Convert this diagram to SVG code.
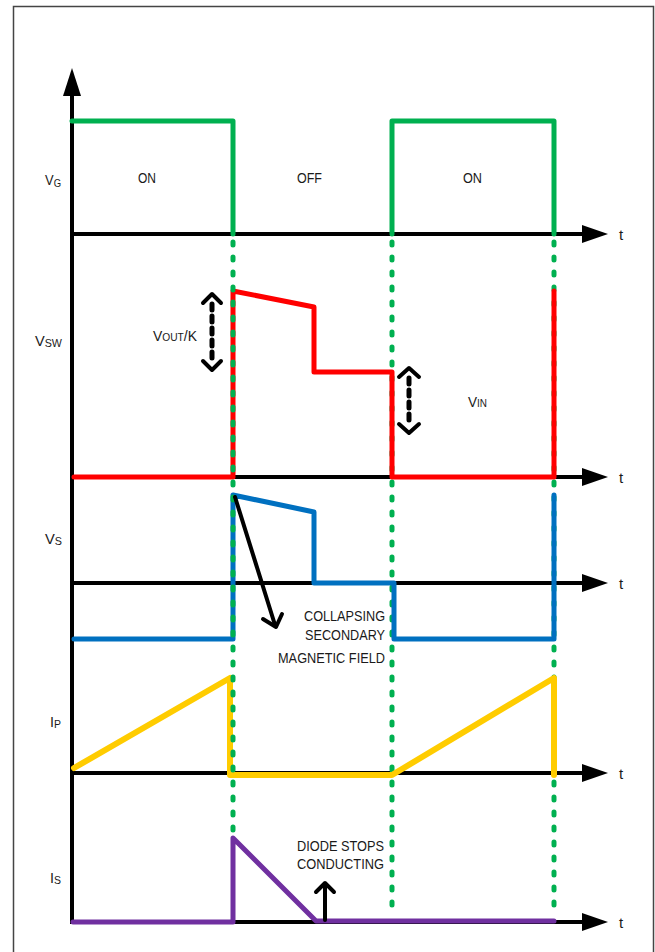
<svg xmlns="http://www.w3.org/2000/svg" width="655" height="952" viewBox="0 0 655 952">
<style>
.ax{stroke:#000;stroke-width:4;fill:none}
.ah{fill:#000}
.wv{fill:none;stroke-linejoin:round;stroke-linecap:round}
.dot{stroke:#00B050;stroke-width:5;stroke-dasharray:3 12;stroke-linecap:round;fill:none}
.blk{stroke:#000;fill:none;stroke-linecap:round;stroke-linejoin:round}
.tx{font-family:"Liberation Sans",Arial,sans-serif;font-size:15px;fill:#1a1a1a}
.sb{font-size:11px}
</style>
<rect x="13.5" y="6.5" width="640" height="960" fill="#fff" stroke="#444" stroke-width="1.5"/>
<g id="axes">
<line class="ax" x1="72" y1="92" x2="72" y2="924"/>
<polygon class="ah" points="72,68 63,96 81,96"/>
<line class="ax" x1="70" y1="234" x2="586" y2="234"/>
<polygon class="ah" points="608,234 582,225 582,243"/>
<line class="ax" x1="70" y1="477" x2="586" y2="477"/>
<polygon class="ah" points="608,477 582,468 582,486"/>
<line class="ax" x1="70" y1="583" x2="586" y2="583"/>
<polygon class="ah" points="608,583 582,574 582,592"/>
<line class="ax" x1="70" y1="773" x2="586" y2="773"/>
<polygon class="ah" points="608,773 582,764 582,782"/>
<line class="ax" x1="70" y1="922" x2="586" y2="922"/>
<polygon class="ah" points="608,922 582,913 582,931"/>
</g>
<g id="guides-back">
<line class="dot" x1="392" y1="242" x2="392" y2="912"/>
<line class="dot" x1="554" y1="242" x2="554" y2="912"/>
</g>
<g id="vg">
<polyline class="wv" stroke="#00B050" stroke-width="5" points="72,121 233,121 233,234"/>
<polyline class="wv" stroke="#00B050" stroke-width="5" points="392,234 392,121 554,121 554,234"/>
</g>
<g id="vsw">
<polyline class="wv" stroke="#FF0000" stroke-width="5" points="74,477 233,477 233,291 314,307 314,372 392,372 392,477 554,477 554,291"/>
</g>
<g id="vs">
<polyline class="wv" stroke="#0070C0" stroke-width="5" points="74,639 233,639 233,495 314,512 314,583 394,583 394,639 554,639 554,495"/>
</g>
<g id="ip">
<polyline class="wv" stroke="#FFCC00" stroke-width="6" points="74,768 230,678 230,775 392,775 554,678 554,775"/>
</g>
<g id="is">
<polyline class="wv" stroke="#7030A0" stroke-width="5" points="73,922 233,922 233,838 316,921 554,921"/>
</g>
<g id="guides-front">
<line class="dot" x1="233" y1="242" x2="233" y2="832"/>
</g>
<g id="arrows">
<line class="blk" x1="212" y1="304" x2="212" y2="362" stroke-width="5" stroke-dasharray="6 6" stroke-linecap="butt"/>
<polyline class="blk" stroke-width="4" points="203,303 212,294 221,303"/>
<polyline class="blk" stroke-width="4" points="203,361 212,370 221,361"/>
<line class="blk" x1="409" y1="378" x2="409" y2="424" stroke-width="5" stroke-dasharray="6 6" stroke-linecap="butt"/>
<polyline class="blk" stroke-width="4" points="399,377 409,368 419,377"/>
<polyline class="blk" stroke-width="4" points="399,424 409,433 419,424"/>
<line class="blk" x1="235" y1="497" x2="275" y2="625" stroke-width="4"/>
<polyline class="blk" stroke-width="4" points="263,619 276,627 282,614"/>
<line class="blk" x1="325" y1="920" x2="325" y2="884" stroke-width="4"/>
<polyline class="blk" stroke-width="4" points="316,892 325,883 334,892"/>
</g>
<g id="labels">
<text class="tx" x="45" y="185" textLength="16" lengthAdjust="spacingAndGlyphs">V<tspan class="sb" dy="2">G</tspan></text>
<text class="tx" x="35" y="346" textLength="27" lengthAdjust="spacingAndGlyphs">V<tspan class="sb" dy="1">SW</tspan></text>
<text class="tx" x="45" y="544" textLength="17" lengthAdjust="spacingAndGlyphs">V<tspan class="sb" dy="1">S</tspan></text>
<text class="tx" x="50" y="727" textLength="11" lengthAdjust="spacingAndGlyphs">I<tspan class="sb" dy="1">P</tspan></text>
<text class="tx" x="50" y="883" textLength="11" lengthAdjust="spacingAndGlyphs">I<tspan class="sb" dy="1">S</tspan></text>
<text class="tx" x="138" y="183" textLength="18" lengthAdjust="spacingAndGlyphs">ON</text>
<text class="tx" x="297" y="183" textLength="25" lengthAdjust="spacingAndGlyphs">OFF</text>
<text class="tx" x="463" y="183" textLength="19" lengthAdjust="spacingAndGlyphs">ON</text>
<text class="tx" x="153" y="341" textLength="44" lengthAdjust="spacingAndGlyphs">V<tspan class="sb">OUT</tspan>/K</text>
<text class="tx" x="468" y="407" textLength="19" lengthAdjust="spacingAndGlyphs">V<tspan class="sb">IN</tspan></text>
<text class="tx" x="304" y="621" textLength="81" lengthAdjust="spacingAndGlyphs">COLLAPSING</text>
<text class="tx" x="305" y="640" textLength="80" lengthAdjust="spacingAndGlyphs">SECONDARY</text>
<text class="tx" x="278" y="663" textLength="107" lengthAdjust="spacingAndGlyphs">MAGNETIC FIELD</text>
<text class="tx" x="297" y="851" textLength="87" lengthAdjust="spacingAndGlyphs">DIODE STOPS</text>
<text class="tx" x="297" y="869" textLength="87" lengthAdjust="spacingAndGlyphs">CONDUCTING</text>
<text class="tx" x="619" y="240">t</text>
<text class="tx" x="619" y="483">t</text>
<text class="tx" x="619" y="589">t</text>
<text class="tx" x="619" y="779">t</text>
<text class="tx" x="619" y="928">t</text>
</g>
</svg>
